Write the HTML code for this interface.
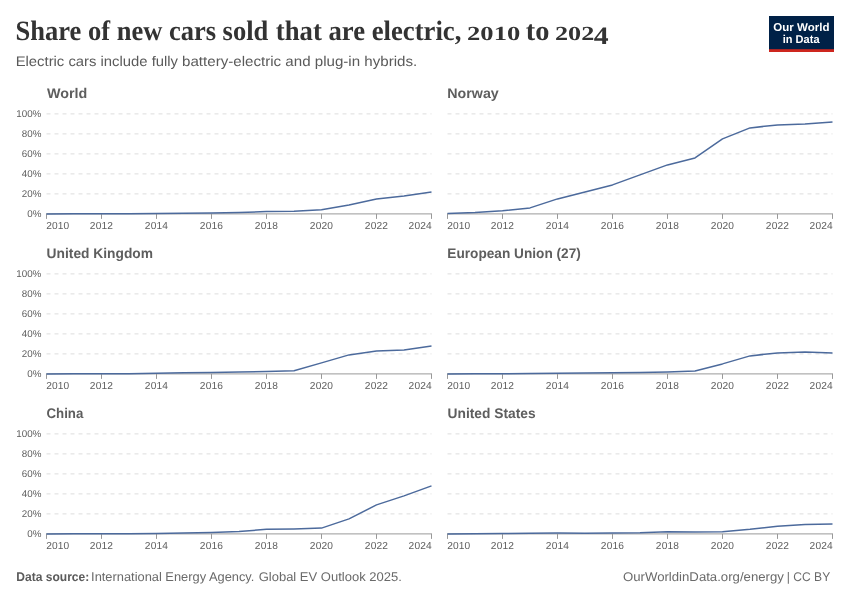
<!DOCTYPE html>
<html lang="en"><head><meta charset="utf-8"><title>Share of new cars sold that are electric, 2010 to 2024</title>
<style>
html,body{margin:0;padding:0;background:#fff;}
body{width:850px;height:600px;overflow:hidden;}
svg{display:block;}
text{font-family:"Liberation Sans",sans-serif;white-space:pre;text-rendering:geometricPrecision;}
.title{font-family:"Liberation Serif",serif;font-weight:700;font-size:28.0px;fill:#333;}
.titlenum{font-family:"Liberation Serif",serif;font-weight:700;font-size:20px;fill:#333;}
.titlenum4{font-family:"Liberation Serif",serif;font-weight:700;font-size:25px;fill:#333;}
.sub{font-size:14px;fill:#5a5a5a;}
.facet{font-size:14px;font-weight:700;fill:#5e5e5e;}
.xtick{font-size:10.2px;fill:#5e5e5e;letter-spacing:0.12px;}
.ytick{font-size:9.8px;fill:#5e5e5e;letter-spacing:0px;}
.foot{font-size:12.6px;fill:#6a6a6a;}
.footb{font-size:12.6px;fill:#5b5b5b;font-weight:700;}
.grid{stroke:#ddd;stroke-width:1;stroke-dasharray:4 4;fill:none;}
.axis{stroke:#999;stroke-width:1;fill:none;}
.line{stroke:#4c6a9c;stroke-width:1.5;fill:none;stroke-linejoin:round;stroke-linecap:butt;}
.logo{font-weight:700;font-size:11.4px;fill:#fff;}
</style></head><body>
<svg width="850" height="600" viewBox="0 0 850 600">
<rect width="850" height="600" fill="#fff"/>
<rect x="769" y="16" width="65" height="36" fill="#002147"/>
<rect x="769" y="49.2" width="65" height="2.8" fill="#ce261e"/>
<g>
<line class="grid" x1="46.5" x2="431.5" y1="113.9" y2="113.9"/>
<line class="grid" x1="46.5" x2="431.5" y1="133.9" y2="133.9"/>
<line class="grid" x1="46.5" x2="431.5" y1="153.9" y2="153.9"/>
<line class="grid" x1="46.5" x2="431.5" y1="173.9" y2="173.9"/>
<line class="grid" x1="46.5" x2="431.5" y1="193.9" y2="193.9"/>
<line class="axis" x1="46.0" x2="432.0" y1="213.9" y2="213.9"/>
<line class="axis" x1="46.5" x2="46.5" y1="213.9" y2="218.9"/>
<line class="axis" x1="101.5" x2="101.5" y1="213.9" y2="218.9"/>
<line class="axis" x1="156.5" x2="156.5" y1="213.9" y2="218.9"/>
<line class="axis" x1="211.5" x2="211.5" y1="213.9" y2="218.9"/>
<line class="axis" x1="266.5" x2="266.5" y1="213.9" y2="218.9"/>
<line class="axis" x1="321.5" x2="321.5" y1="213.9" y2="218.9"/>
<line class="axis" x1="376.5" x2="376.5" y1="213.9" y2="218.9"/>
<line class="axis" x1="431.5" x2="431.5" y1="213.9" y2="218.9"/>
<polyline class="line" points="46.50,213.89 74.00,213.83 101.50,213.73 129.00,213.65 156.50,213.52 184.00,213.26 211.50,213.04 239.00,212.50 266.50,211.60 294.00,211.30 321.50,209.70 349.00,204.90 376.50,198.90 404.00,195.90 431.50,191.90"/>
</g>
<g>
<line class="grid" x1="447.5" x2="832.5" y1="113.9" y2="113.9"/>
<line class="grid" x1="447.5" x2="832.5" y1="133.9" y2="133.9"/>
<line class="grid" x1="447.5" x2="832.5" y1="153.9" y2="153.9"/>
<line class="grid" x1="447.5" x2="832.5" y1="173.9" y2="173.9"/>
<line class="grid" x1="447.5" x2="832.5" y1="193.9" y2="193.9"/>
<line class="axis" x1="447.0" x2="833.0" y1="213.9" y2="213.9"/>
<line class="axis" x1="447.5" x2="447.5" y1="213.9" y2="218.9"/>
<line class="axis" x1="502.5" x2="502.5" y1="213.9" y2="218.9"/>
<line class="axis" x1="557.5" x2="557.5" y1="213.9" y2="218.9"/>
<line class="axis" x1="612.5" x2="612.5" y1="213.9" y2="218.9"/>
<line class="axis" x1="667.5" x2="667.5" y1="213.9" y2="218.9"/>
<line class="axis" x1="722.5" x2="722.5" y1="213.9" y2="218.9"/>
<line class="axis" x1="777.5" x2="777.5" y1="213.9" y2="218.9"/>
<line class="axis" x1="832.5" x2="832.5" y1="213.9" y2="218.9"/>
<polyline class="line" points="447.50,213.61 475.00,212.50 502.50,210.70 530.00,207.90 557.50,198.90 585.00,191.90 612.50,184.90 640.00,174.90 667.50,164.90 695.00,157.90 722.50,138.90 750.00,127.90 777.50,124.90 805.00,123.90 832.50,121.90"/>
</g>
<g>
<line class="grid" x1="46.5" x2="431.5" y1="273.9" y2="273.9"/>
<line class="grid" x1="46.5" x2="431.5" y1="293.9" y2="293.9"/>
<line class="grid" x1="46.5" x2="431.5" y1="313.9" y2="313.9"/>
<line class="grid" x1="46.5" x2="431.5" y1="333.9" y2="333.9"/>
<line class="grid" x1="46.5" x2="431.5" y1="353.9" y2="353.9"/>
<line class="axis" x1="46.0" x2="432.0" y1="373.9" y2="373.9"/>
<line class="axis" x1="46.5" x2="46.5" y1="373.9" y2="378.9"/>
<line class="axis" x1="101.5" x2="101.5" y1="373.9" y2="378.9"/>
<line class="axis" x1="156.5" x2="156.5" y1="373.9" y2="378.9"/>
<line class="axis" x1="211.5" x2="211.5" y1="373.9" y2="378.9"/>
<line class="axis" x1="266.5" x2="266.5" y1="373.9" y2="378.9"/>
<line class="axis" x1="321.5" x2="321.5" y1="373.9" y2="378.9"/>
<line class="axis" x1="376.5" x2="376.5" y1="373.9" y2="378.9"/>
<line class="axis" x1="431.5" x2="431.5" y1="373.9" y2="378.9"/>
<polyline class="line" points="46.50,373.89 74.00,373.83 101.50,373.77 129.00,373.73 156.50,373.30 184.00,372.80 211.50,372.40 239.00,372.00 266.50,371.40 294.00,370.70 321.50,362.90 349.00,354.90 376.50,350.90 404.00,349.90 431.50,345.90"/>
</g>
<g>
<line class="grid" x1="447.5" x2="832.5" y1="273.9" y2="273.9"/>
<line class="grid" x1="447.5" x2="832.5" y1="293.9" y2="293.9"/>
<line class="grid" x1="447.5" x2="832.5" y1="313.9" y2="313.9"/>
<line class="grid" x1="447.5" x2="832.5" y1="333.9" y2="333.9"/>
<line class="grid" x1="447.5" x2="832.5" y1="353.9" y2="353.9"/>
<line class="axis" x1="447.0" x2="833.0" y1="373.9" y2="373.9"/>
<line class="axis" x1="447.5" x2="447.5" y1="373.9" y2="378.9"/>
<line class="axis" x1="502.5" x2="502.5" y1="373.9" y2="378.9"/>
<line class="axis" x1="557.5" x2="557.5" y1="373.9" y2="378.9"/>
<line class="axis" x1="612.5" x2="612.5" y1="373.9" y2="378.9"/>
<line class="axis" x1="667.5" x2="667.5" y1="373.9" y2="378.9"/>
<line class="axis" x1="722.5" x2="722.5" y1="373.9" y2="378.9"/>
<line class="axis" x1="777.5" x2="777.5" y1="373.9" y2="378.9"/>
<line class="axis" x1="832.5" x2="832.5" y1="373.9" y2="378.9"/>
<polyline class="line" points="447.50,373.89 475.00,373.82 502.50,373.70 530.00,373.50 557.50,373.30 585.00,372.90 612.50,372.80 640.00,372.40 667.50,371.90 695.00,370.90 722.50,363.90 750.00,355.90 777.50,352.90 805.00,351.90 832.50,352.90"/>
</g>
<g>
<line class="grid" x1="46.5" x2="431.5" y1="433.9" y2="433.9"/>
<line class="grid" x1="46.5" x2="431.5" y1="453.9" y2="453.9"/>
<line class="grid" x1="46.5" x2="431.5" y1="473.9" y2="473.9"/>
<line class="grid" x1="46.5" x2="431.5" y1="493.9" y2="493.9"/>
<line class="grid" x1="46.5" x2="431.5" y1="513.9" y2="513.9"/>
<line class="axis" x1="46.0" x2="432.0" y1="533.9" y2="533.9"/>
<line class="axis" x1="46.5" x2="46.5" y1="533.9" y2="538.9"/>
<line class="axis" x1="101.5" x2="101.5" y1="533.9" y2="538.9"/>
<line class="axis" x1="156.5" x2="156.5" y1="533.9" y2="538.9"/>
<line class="axis" x1="211.5" x2="211.5" y1="533.9" y2="538.9"/>
<line class="axis" x1="266.5" x2="266.5" y1="533.9" y2="538.9"/>
<line class="axis" x1="321.5" x2="321.5" y1="533.9" y2="538.9"/>
<line class="axis" x1="376.5" x2="376.5" y1="533.9" y2="538.9"/>
<line class="axis" x1="431.5" x2="431.5" y1="533.9" y2="538.9"/>
<polyline class="line" points="46.50,533.89 74.00,533.86 101.50,533.82 129.00,533.80 156.50,533.50 184.00,532.90 211.50,532.40 239.00,531.50 266.50,529.30 294.00,528.90 321.50,528.10 349.00,518.90 376.50,504.90 404.00,495.90 431.50,485.90"/>
</g>
<g>
<line class="grid" x1="447.5" x2="832.5" y1="433.9" y2="433.9"/>
<line class="grid" x1="447.5" x2="832.5" y1="453.9" y2="453.9"/>
<line class="grid" x1="447.5" x2="832.5" y1="473.9" y2="473.9"/>
<line class="grid" x1="447.5" x2="832.5" y1="493.9" y2="493.9"/>
<line class="grid" x1="447.5" x2="832.5" y1="513.9" y2="513.9"/>
<line class="axis" x1="447.0" x2="833.0" y1="533.9" y2="533.9"/>
<line class="axis" x1="447.5" x2="447.5" y1="533.9" y2="538.9"/>
<line class="axis" x1="502.5" x2="502.5" y1="533.9" y2="538.9"/>
<line class="axis" x1="557.5" x2="557.5" y1="533.9" y2="538.9"/>
<line class="axis" x1="612.5" x2="612.5" y1="533.9" y2="538.9"/>
<line class="axis" x1="667.5" x2="667.5" y1="533.9" y2="538.9"/>
<line class="axis" x1="722.5" x2="722.5" y1="533.9" y2="538.9"/>
<line class="axis" x1="777.5" x2="777.5" y1="533.9" y2="538.9"/>
<line class="axis" x1="832.5" x2="832.5" y1="533.9" y2="538.9"/>
<polyline class="line" points="447.50,533.89 475.00,533.70 502.50,533.50 530.00,533.20 557.50,533.10 585.00,533.20 612.50,533.00 640.00,532.70 667.50,531.70 695.00,531.90 722.50,531.70 750.00,529.30 777.50,526.20 805.00,524.40 832.50,523.90"/>
</g>
<text><tspan class="title" x="15.58" y="40.2" textLength="252.70" lengthAdjust="spacingAndGlyphs">Share of new cars sold</tspan> <tspan class="title" x="275.87" y="40.2" textLength="185.48" lengthAdjust="spacingAndGlyphs">that are electric,</tspan> <tspan class="titlenum" x="467.10" y="40.2" textLength="53.13" lengthAdjust="spacingAndGlyphs">2010</tspan> <tspan class="title" x="525.85" y="40.2" textLength="23.60" lengthAdjust="spacingAndGlyphs">to</tspan> <tspan class="titlenum" x="555.02" y="40.2" textLength="39.26" lengthAdjust="spacingAndGlyphs">202</tspan><tspan class="titlenum4" x="593.74" y="43.7" textLength="14.84" lengthAdjust="spacingAndGlyphs">4</tspan></text>
<text><tspan class="sub" x="15.68" y="66.4" textLength="162.37" lengthAdjust="spacingAndGlyphs">Electric cars include fully</tspan> <tspan class="sub" x="182.03" y="66.4" textLength="235.26" lengthAdjust="spacingAndGlyphs">battery-electric and plug-in hybrids.</tspan></text>
<text><tspan class="logo" x="773.35" y="30.6" textLength="56.10" lengthAdjust="spacingAndGlyphs">Our World</tspan> <tspan class="logo" x="782.77" y="42.6" textLength="36.76" lengthAdjust="spacingAndGlyphs">in Data</tspan></text>
<text class="facet" x="47.05" y="98.0" textLength="40.28" lengthAdjust="spacingAndGlyphs">World</text>
<text class="ytick" x="16.25" y="117.3">100%</text>
<text class="ytick" x="21.75" y="137.3">80%</text>
<text class="ytick" x="21.75" y="157.3">60%</text>
<text class="ytick" x="21.75" y="177.3">40%</text>
<text class="ytick" x="21.75" y="197.3">20%</text>
<text class="ytick" x="27.25" y="217.3">0%</text>
<text class="xtick" x="46.15" y="229.3">2010</text>
<text class="xtick" x="89.85" y="229.3">2012</text>
<text class="xtick" x="144.85" y="229.3">2014</text>
<text class="xtick" x="199.85" y="229.3">2016</text>
<text class="xtick" x="254.85" y="229.3">2018</text>
<text class="xtick" x="309.85" y="229.3">2020</text>
<text class="xtick" x="364.85" y="229.3">2022</text>
<text class="xtick" x="408.60" y="229.3">2024</text>
<text class="facet" x="447.33" y="98.0" textLength="51.45" lengthAdjust="spacingAndGlyphs">Norway</text>
<text class="xtick" x="447.15" y="229.3">2010</text>
<text class="xtick" x="490.85" y="229.3">2012</text>
<text class="xtick" x="545.85" y="229.3">2014</text>
<text class="xtick" x="600.85" y="229.3">2016</text>
<text class="xtick" x="655.85" y="229.3">2018</text>
<text class="xtick" x="710.85" y="229.3">2020</text>
<text class="xtick" x="765.85" y="229.3">2022</text>
<text class="xtick" x="809.60" y="229.3">2024</text>
<text class="facet" x="46.61" y="258.0" textLength="106.38" lengthAdjust="spacingAndGlyphs">United Kingdom</text>
<text class="ytick" x="16.25" y="277.3">100%</text>
<text class="ytick" x="21.75" y="297.3">80%</text>
<text class="ytick" x="21.75" y="317.3">60%</text>
<text class="ytick" x="21.75" y="337.3">40%</text>
<text class="ytick" x="21.75" y="357.3">20%</text>
<text class="ytick" x="27.25" y="377.3">0%</text>
<text class="xtick" x="46.15" y="389.3">2010</text>
<text class="xtick" x="89.85" y="389.3">2012</text>
<text class="xtick" x="144.85" y="389.3">2014</text>
<text class="xtick" x="199.85" y="389.3">2016</text>
<text class="xtick" x="254.85" y="389.3">2018</text>
<text class="xtick" x="309.85" y="389.3">2020</text>
<text class="xtick" x="364.85" y="389.3">2022</text>
<text class="xtick" x="408.60" y="389.3">2024</text>
<text class="facet" x="447.37" y="258.0" textLength="133.41" lengthAdjust="spacingAndGlyphs">European Union (27)</text>
<text class="xtick" x="447.15" y="389.3">2010</text>
<text class="xtick" x="490.85" y="389.3">2012</text>
<text class="xtick" x="545.85" y="389.3">2014</text>
<text class="xtick" x="600.85" y="389.3">2016</text>
<text class="xtick" x="655.85" y="389.3">2018</text>
<text class="xtick" x="710.85" y="389.3">2020</text>
<text class="xtick" x="765.85" y="389.3">2022</text>
<text class="xtick" x="809.60" y="389.3">2024</text>
<text class="facet" x="46.53" y="418.0" textLength="36.82" lengthAdjust="spacingAndGlyphs">China</text>
<text class="ytick" x="16.25" y="437.3">100%</text>
<text class="ytick" x="21.75" y="457.3">80%</text>
<text class="ytick" x="21.75" y="477.3">60%</text>
<text class="ytick" x="21.75" y="497.3">40%</text>
<text class="ytick" x="21.75" y="517.3">20%</text>
<text class="ytick" x="27.25" y="537.3">0%</text>
<text class="xtick" x="46.15" y="549.3">2010</text>
<text class="xtick" x="89.85" y="549.3">2012</text>
<text class="xtick" x="144.85" y="549.3">2014</text>
<text class="xtick" x="199.85" y="549.3">2016</text>
<text class="xtick" x="254.85" y="549.3">2018</text>
<text class="xtick" x="309.85" y="549.3">2020</text>
<text class="xtick" x="364.85" y="549.3">2022</text>
<text class="xtick" x="408.60" y="549.3">2024</text>
<text class="facet" x="447.61" y="418.0" textLength="87.99" lengthAdjust="spacingAndGlyphs">United States</text>
<text class="xtick" x="447.15" y="549.3">2010</text>
<text class="xtick" x="490.85" y="549.3">2012</text>
<text class="xtick" x="545.85" y="549.3">2014</text>
<text class="xtick" x="600.85" y="549.3">2016</text>
<text class="xtick" x="655.85" y="549.3">2018</text>
<text class="xtick" x="710.85" y="549.3">2020</text>
<text class="xtick" x="765.85" y="549.3">2022</text>
<text class="xtick" x="809.60" y="549.3">2024</text>
<text><tspan class="footb" x="16.28" y="581.0" textLength="72.96" lengthAdjust="spacingAndGlyphs">Data source:</tspan> <tspan class="foot" x="91.08" y="581.0" textLength="163.34" lengthAdjust="spacingAndGlyphs">International Energy Agency.</tspan> <tspan class="foot" x="258.68" y="581.0" textLength="143.14" lengthAdjust="spacingAndGlyphs">Global EV Outlook 2025.</tspan></text>
<text><tspan class="foot" x="622.98" y="581.0" textLength="160.90" lengthAdjust="spacingAndGlyphs">OurWorldinData.org/energy</tspan> <tspan class="foot" x="786.80" y="581.0" textLength="43.45" lengthAdjust="spacingAndGlyphs">| CC BY</tspan></text>
</svg>
</body></html>
